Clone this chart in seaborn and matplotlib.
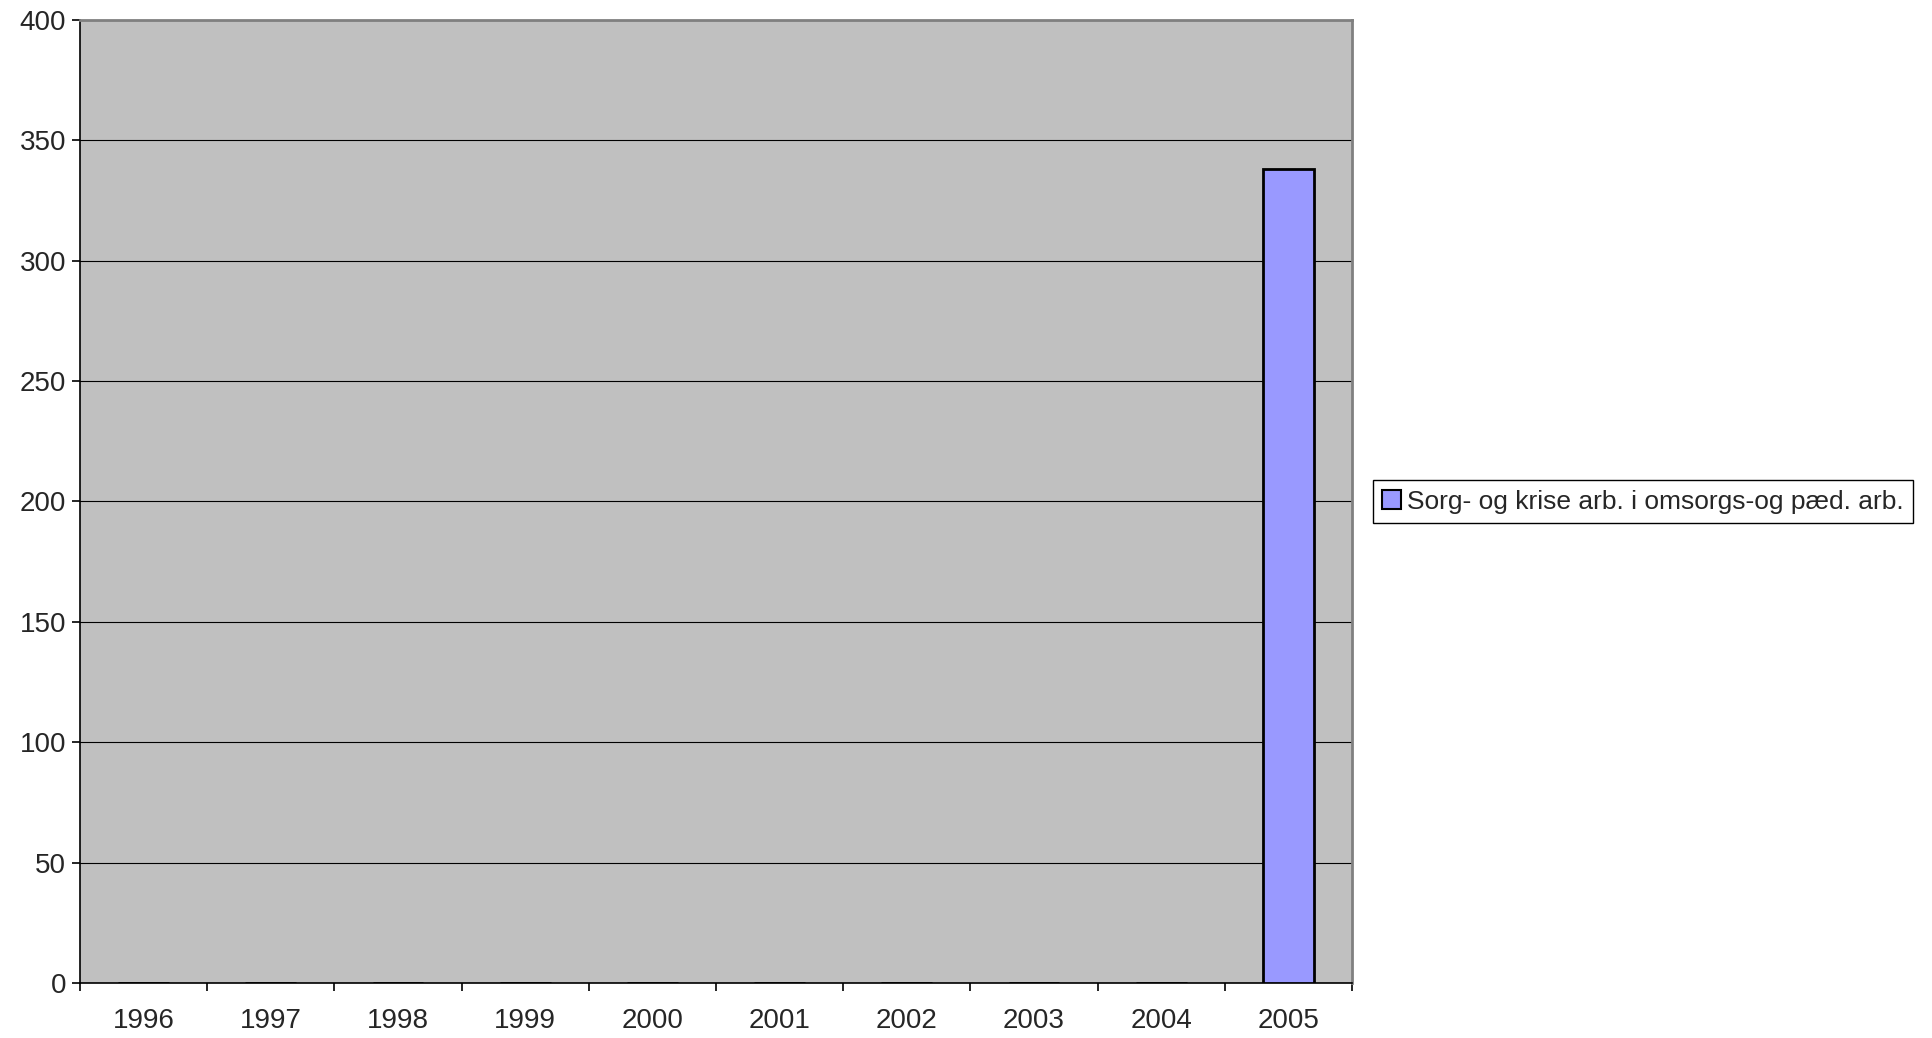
import matplotlib
matplotlib.use("Agg")
import matplotlib.pyplot as plt
import seaborn as sns
import pandas as pd
import numpy as np
from matplotlib.patches import Patch

years = ["1996", "1997", "1998", "1999", "2000", "2001", "2002", "2003", "2004", "2005"]
values = [0, 0, 0, 0, 0, 0, 0, 0, 0, 338]
series_name = "Sorg- og krise arb. i omsorgs-og pæd. arb."
yticks = [0, 50, 100, 150, 200, 250, 300, 350, 400]

sns.set_style("white")
plt.rcParams['font.family'] = ['Liberation Sans', 'DejaVu Sans']

df = pd.DataFrame({"year": years, "value": values})

fig = plt.figure(figsize=(19.32, 10.38), dpi=100)
ax = fig.add_axes([80/1932, 1-983/1038, (1352-80)/1932, (983-20)/1038])
ax.set_facecolor("#C0C0C0")

sns.barplot(data=df, x="year", y="value", order=years, color="#9999FF",
            width=0.4, edgecolor="black", linewidth=2, saturation=1, ax=ax, zorder=3)

ax.set_ylim(0, 400)
ax.set_xlim(-0.5, len(years) - 0.5)
ax.set_yticks(yticks)
ax.yaxis.grid(True, color="black", linewidth=0.8, zorder=1)
ax.set_axisbelow(True)
ax.set_xlabel("")
ax.set_ylabel("")

ax.set_xticks(np.arange(len(years)))
ax.set_xticklabels(years)
ax.set_xticks(np.arange(-0.5, len(years)), minor=True)
ax.tick_params(axis="x", which="major", bottom=True, length=0, pad=18, labelsize=20)
ax.tick_params(axis="x", which="minor", bottom=True, length=6, width=1.2, color="black", direction="out")
ax.tick_params(axis="y", which="major", left=True, length=6, width=1.2, color="black", direction="out", labelsize=20, pad=4)

for s in ["left", "bottom"]:
    ax.spines[s].set_color("black")
    ax.spines[s].set_linewidth(1.2)
for s in ["top", "right"]:
    ax.spines[s].set_visible(True)
    ax.spines[s].set_color("#808080")
    ax.spines[s].set_linewidth(2)

handle = Patch(facecolor="#9999FF", edgecolor="black", linewidth=1.5)
leg = fig.legend([handle], [series_name], loc="center left",
                 bbox_to_anchor=(1373/1932, 1-501.5/1038), fontsize=19,
                 frameon=True, fancybox=False, edgecolor="black", framealpha=1,
                 handlelength=0.7, handleheight=0.7, handletextpad=0.25,
                 borderpad=0.35, borderaxespad=0)
leg.get_frame().set_linewidth(1)

fig.savefig("out.png", dpi=100, facecolor="white")
